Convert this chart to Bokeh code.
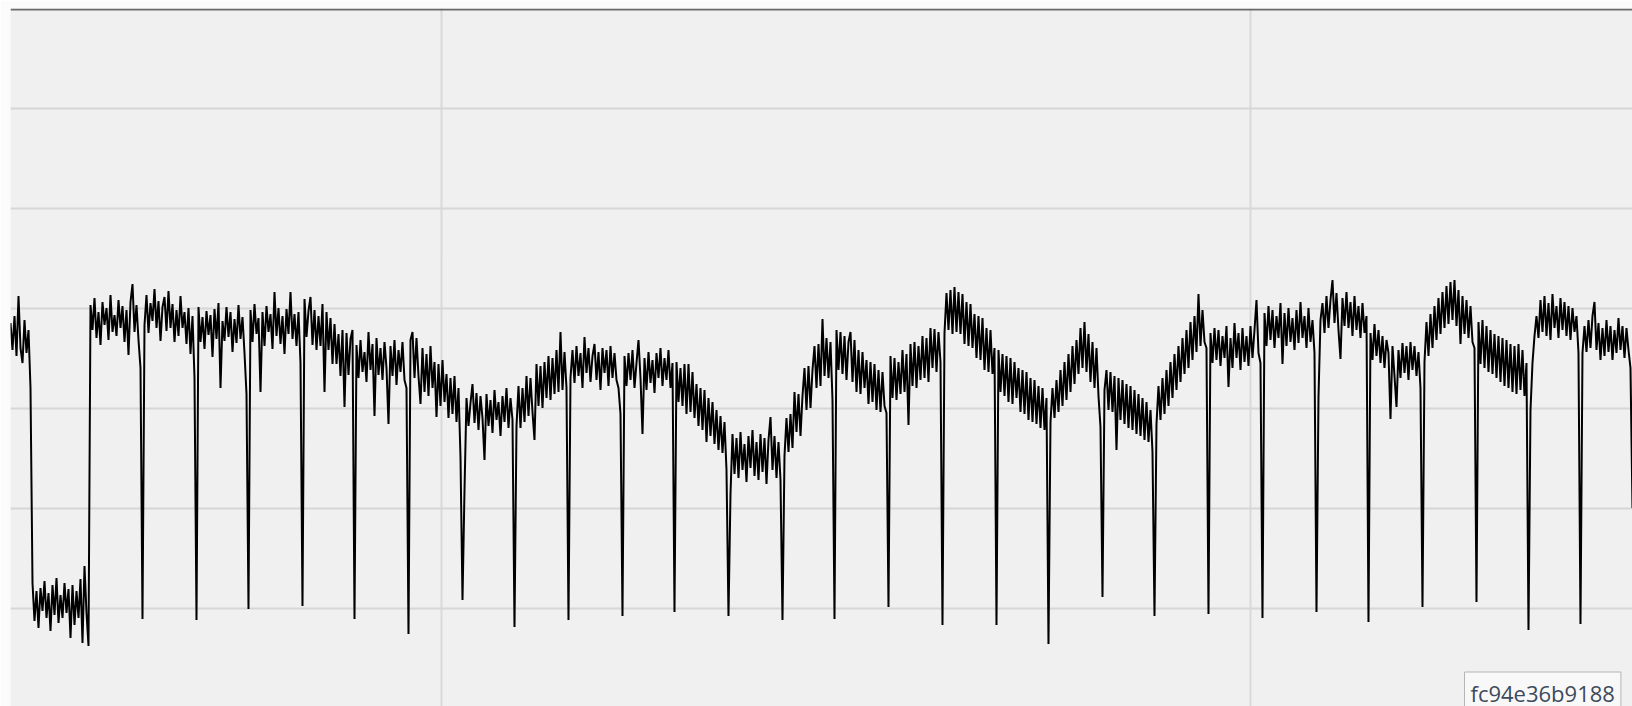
import numpy as np
from bokeh.plotting import figure
from bokeh.models import Range1d, SingleIntervalTicker, Span, Label, Grid, ColumnDataSource
from bokeh.embed import file_html
from bokeh.resources import INLINE

# ---- data ----
# time of the first sample and sampling interval (s)
t_start = 0.46648
t_step = 0.002474

# current trace; one row per stretch between the periodic dips (rows end with the dip minimum)
signal = [
    3.85, 3.58, 3.92, 3.52, 4.12, 3.60, 3.45, 3.88, 3.55, 3.78, 3.20,
    1.25, 0.87, 1.17, 0.80, 1.20, 0.97, 1.27, 0.90, 1.15, 0.77, 1.23, 0.93, 1.30, 0.85, 1.13, 0.90, 1.25, 0.95, 1.19, 0.70, 1.23, 0.83, 1.17, 0.90, 1.29, 0.65, 1.42, 0.95, 0.62,
    4.03, 3.78, 4.10, 3.70, 3.96, 3.63, 4.06, 3.83, 4.00, 3.68, 4.13, 3.76, 3.93, 3.72, 4.08, 3.80, 4.02, 3.66, 3.98, 3.53, 4.06, 4.24, 3.76, 4.03, 3.68, 3.40, 0.89,
    3.83, 4.13, 3.75, 4.05, 3.87, 4.19, 3.80, 4.07, 3.67, 4.01, 4.11, 3.77, 4.17, 3.80, 4.04, 3.66, 3.98, 3.72, 4.12, 3.80, 3.96, 3.64, 4.00, 3.54, 3.92, 3.30, 0.88,
    4.01, 3.66, 3.91, 3.59, 3.97, 3.73, 3.93, 3.51, 3.99, 3.69, 4.05, 3.20, 3.87, 3.67, 4.01, 3.71, 3.96, 3.56, 3.89, 3.65, 4.03, 3.69, 3.91, 3.55, 3.14, 0.99,
    3.98, 3.66, 4.04, 3.74, 3.90, 3.16, 3.96, 3.62, 4.02, 3.76, 3.94, 3.59, 4.16, 3.72, 4.00, 3.64, 3.92, 3.54, 3.99, 3.74, 4.16, 3.69, 3.94, 3.62, 3.96, 3.45, 1.02,
    4.09, 3.71, 3.97, 4.11, 3.63, 3.98, 3.58, 3.92, 3.62, 4.04, 3.16, 3.96, 3.58, 3.90, 3.44, 3.84, 3.44, 3.74, 3.32, 3.78, 3.01, 3.75, 3.33, 3.69, 3.78, 0.89,
    3.63, 3.30, 3.68, 3.36, 3.56, 3.26, 3.76, 3.38, 3.64, 2.92, 3.70, 3.33, 3.60, 3.28, 3.66, 3.40, 2.84, 3.62, 3.32, 3.68, 3.23, 3.58, 3.36, 3.66, 3.28, 3.20, 0.74,
    3.68, 3.76, 3.30, 3.70, 3.32, 3.04, 3.60, 3.16, 3.54, 3.12, 3.62, 3.20, 3.46, 2.91, 3.44, 3.02, 3.48, 3.06, 3.34, 2.90, 3.30, 2.94, 3.32, 2.86, 3.20, 2.51, 1.08,
    2.18, 3.10, 2.82, 3.05, 3.24, 2.85, 3.15, 2.78, 3.12, 2.90, 2.48, 3.14, 2.82, 3.08, 2.75, 3.18, 2.88, 3.06, 2.72, 3.12, 2.86, 3.20, 2.80, 3.10, 2.88, 0.81,
    2.82, 3.22, 2.80, 3.20, 2.86, 3.32, 2.92, 3.30, 2.96, 2.68, 3.44, 3.02, 3.42, 3.00, 3.46, 3.10, 3.52, 3.08, 3.50, 3.14, 3.58, 3.16, 3.76, 3.18, 3.56, 3.20, 0.88,
    3.30, 3.58, 3.25, 3.62, 3.32, 3.55, 3.20, 3.71, 3.35, 3.60, 3.26, 3.52, 3.64, 3.28, 3.56, 3.18, 3.60, 3.35, 3.58, 3.22, 3.62, 3.30, 3.55, 3.28, 3.20, 2.94, 0.92,
    3.52, 3.22, 3.55, 3.28, 3.58, 3.20, 3.45, 3.68, 3.30, 2.74, 3.50, 3.18, 3.56, 3.25, 3.48, 3.15, 3.55, 3.30, 3.60, 3.22, 3.50, 3.28, 3.58, 3.20, 3.45, 0.96,
    3.46, 3.06, 3.40, 3.02, 3.44, 2.94, 3.44, 2.96, 3.36, 2.90, 3.24, 2.82, 3.20, 2.78, 3.18, 2.66, 3.10, 2.72, 3.06, 2.64, 2.98, 2.58, 2.92, 2.55, 2.86, 2.38, 0.92,
    2.14, 2.74, 2.34, 2.70, 2.30, 2.76, 2.38, 2.64, 2.26, 2.72, 2.40, 2.78, 2.32, 2.66, 2.28, 2.74, 2.36, 2.70, 2.24, 2.68, 2.91, 2.38, 2.72, 2.30, 2.66, 2.28, 0.88,
    2.52, 2.90, 2.56, 2.94, 2.60, 3.16, 2.76, 3.14, 2.72, 3.12, 3.40, 2.98, 3.42, 3.00, 3.38, 3.62, 3.20, 3.64, 3.22, 3.89, 3.32, 3.70, 3.30, 3.66, 3.08, 0.89,
    3.78, 3.38, 3.76, 3.34, 3.72, 3.28, 3.66, 3.76, 3.26, 3.68, 3.16, 3.58, 3.14, 3.56, 3.20, 3.48, 3.04, 3.46, 3.06, 3.44, 2.98, 3.38, 2.96, 3.36, 3.02, 2.95, 1.01,
    3.52, 3.10, 3.50, 3.08, 3.46, 3.14, 3.58, 3.16, 3.54, 2.83, 3.64, 3.22, 3.66, 3.20, 3.62, 3.28, 3.72, 3.30, 3.70, 3.26, 3.80, 3.40, 3.79, 3.36, 3.76, 3.46, 0.83,
    3.75, 4.15, 3.78, 4.18, 3.74, 4.21, 3.76, 4.16, 3.74, 4.14, 3.64, 4.06, 3.62, 4.04, 3.60, 3.94, 3.50, 3.92, 3.48, 3.90, 3.38, 3.80, 3.36, 3.78, 3.34, 3.60, 0.83,
    3.58, 3.16, 3.54, 3.12, 3.52, 3.06, 3.50, 3.04, 3.46, 3.10, 3.40, 2.96, 3.38, 2.94, 3.36, 2.88, 3.30, 2.86, 3.28, 2.84, 3.22, 2.80, 3.20, 2.78, 3.10, 0.64,
    2.86, 3.20, 2.90, 3.28, 2.96, 3.38, 3.02, 3.46, 3.08, 3.54, 3.16, 3.62, 3.24, 3.68, 3.34, 3.80, 3.40, 3.86, 3.36, 3.74, 3.26, 3.66, 3.20, 3.60, 3.12, 2.81, 1.11,
    3.18, 3.38, 2.98, 3.36, 2.96, 3.32, 2.58, 3.30, 2.88, 3.28, 2.84, 3.24, 2.80, 3.22, 2.78, 3.18, 2.74, 3.14, 2.72, 3.10, 2.68, 3.06, 2.66, 2.98, 2.56, 0.92,
    2.84, 3.22, 2.88, 3.30, 2.94, 3.38, 3.02, 3.46, 3.10, 3.54, 3.18, 3.62, 3.26, 3.70, 3.34, 3.78, 3.40, 3.86, 3.48, 3.92, 3.56, 4.14, 3.62, 3.98, 3.66, 3.60, 0.94,
    3.75, 3.45, 3.80, 3.48, 3.78, 3.42, 3.72, 3.50, 3.82, 3.21, 3.70, 3.40, 3.85, 3.50, 3.75, 3.38, 3.80, 3.46, 3.72, 3.42, 3.82, 3.50, 3.78, 4.08, 3.55, 3.45, 0.90,
    3.95, 3.62, 4.02, 3.68, 3.98, 3.60, 3.92, 3.70, 4.05, 3.44, 3.95, 3.62, 4.00, 3.66, 3.90, 3.58, 3.98, 3.65, 4.06, 3.70, 3.92, 3.60, 4.00, 3.66, 3.88, 3.55, 0.96,
    3.11, 3.88, 4.05, 3.75, 4.12, 3.80, 4.08, 4.28, 3.85, 4.15, 3.78, 3.49, 4.10, 3.82, 4.16, 3.80, 4.06, 3.72, 4.12, 3.78, 4.02, 3.70, 4.05, 3.75, 3.92, 0.86,
    3.75, 3.48, 3.84, 3.52, 3.78, 3.45, 3.72, 3.40, 3.68, 3.55, 2.89, 3.62, 3.32, 3.01, 3.58, 3.30, 3.65, 3.35, 3.62, 3.28, 3.66, 3.38, 3.62, 3.32, 3.56, 3.20, 1.01,
    3.46, 3.86, 3.52, 3.94, 3.60, 4.02, 3.68, 4.10, 3.74, 4.16, 3.80, 4.22, 3.84, 4.26, 3.88, 4.28, 3.82, 4.18, 3.64, 4.12, 3.74, 4.08, 3.70, 4.02, 3.66, 3.60, 1.06,
    3.86, 3.44, 3.88, 3.40, 3.82, 3.36, 3.78, 3.34, 3.74, 3.30, 3.72, 3.26, 3.70, 3.22, 3.68, 3.20, 3.64, 3.16, 3.62, 3.14, 3.64, 3.18, 3.58, 3.12, 3.45, 0.78,
    2.98, 3.45, 3.72, 3.92, 3.70, 4.08, 3.76, 4.12, 3.72, 4.05, 3.68, 4.14, 3.80, 4.02, 3.70, 4.10, 3.78, 4.06, 3.72, 4.02, 3.68, 4.00, 3.76, 3.92, 3.55, 0.84,
    3.55, 3.82, 3.56, 3.88, 3.60, 3.92, 4.06, 3.58, 3.85, 3.48, 3.80, 3.52, 3.88, 3.56, 3.82, 3.48, 3.78, 3.55, 3.90, 3.58, 3.82, 3.50, 3.80, 3.58, 3.40, 2.00,
]

read_id = "fc94e36b9188"

# axis extents and grid spacing
x_min, x_max = 0.46648, 2.47291
y_min, y_max = 0.015, 6.995
grid_interval_x = 1
grid_interval_y = 1

# ---- plot ----
t = t_start + t_step * np.arange(len(signal))
src = ColumnDataSource(dict(t=t, current=signal))

p = figure(width=1632, height=706, output_backend="svg", toolbar_location=None,
           x_axis_location=None, y_axis_location=None,
           x_range=Range1d(x_min, x_max), y_range=Range1d(y_min, y_max),
           background_fill_color="#f0f0f0", border_fill_color="#fbfbfb",
           outline_line_color=None, min_border=0, min_border_left=10, min_border_top=8)
p.grid.visible = False

gx = Grid(dimension=0, ticker=SingleIntervalTicker(interval=grid_interval_x),
          grid_line_color="#d9d9d9", grid_line_width=2)
gy = Grid(dimension=1, ticker=SingleIntervalTicker(interval=grid_interval_y),
          grid_line_color="#d6d6d6", grid_line_width=2)
p.add_layout(gx, "center")
p.add_layout(gy, "center")

p.line("t", "current", source=src, line_color="black", line_width=2)

top_rule = Span(location=y_max - 0.01, dimension="width", line_color="#6a6a6a", line_width=2)
p.add_layout(top_rule)

lbl = Label(x=2.2651, y=0.15, text=read_id, text_font="Open Sans", text_font_size="22px",
            text_color="#3d4a5c", text_baseline="alphabetic",
            background_fill_color="#f8f8f8", border_line_color="#b5b5b5",
            border_line_width=1, padding=6)
p.add_layout(lbl)

open("out.html", "w").write(file_html(p, INLINE))
